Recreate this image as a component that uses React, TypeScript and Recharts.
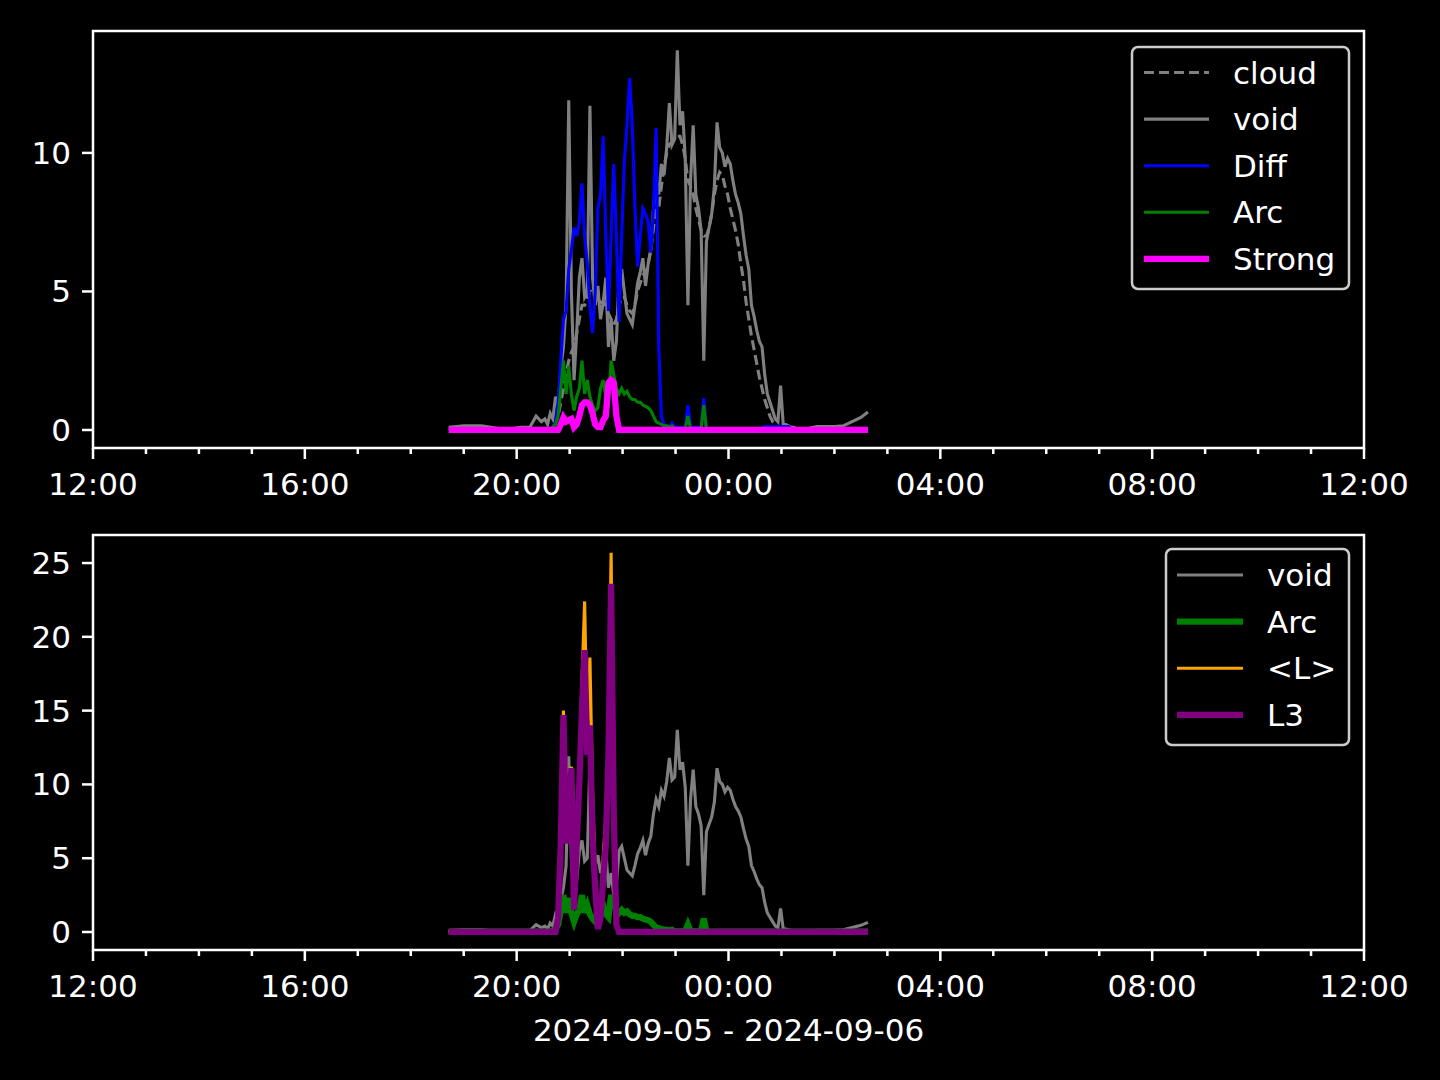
import { LineChart, Line, XAxis, YAxis, ReferenceArea } from 'recharts';

// minutes after 12:00 on 2024-09-05
const TIME = [
  403, 420, 440, 460, 475, 485, 495, 502, 508,
  512, 515, 518, 521, 524, 527, 530, 533, 536, 539,
  542, 545, 548, 551, 554, 557, 560, 563, 566, 569,
  572, 575, 578, 581, 584, 587, 590, 593, 596, 599,
  602, 605, 608, 611, 614, 617, 620, 623, 626, 629,
  632, 635, 638, 641, 644, 647, 650, 653, 656, 659,
  662, 665, 668, 671, 674, 677, 680, 683, 686, 689,
  692, 695, 698, 701, 704, 707, 710, 713, 716, 719,
  722, 725, 728, 731, 734, 737, 740, 743, 746, 749,
  752, 755, 758, 761, 764, 767, 770, 773, 776, 779,
  782, 785, 788, 791, 794, 797, 800,
  810, 820, 830, 840, 850, 860, 870, 878,
];

const CLOUD = [
  0.05, 0.05, 0.05, 0.05, 0.05, 0.05, 0.05, 0.05, 0.05,
  0.05, 0.05, 0.05, 0.1, 0.3, 0.5, 1.0, 1.5, 2.0, 2.5,
  2.8, 3.0, 3.5, 4.0, 4.5, 4.5, 4.8, 5.0, 5.2, 5.0,
  4.8, 4.6, 4.6, 4.5, 4.2, 4.0, 3.8, 4.0, 4.5, 4.8,
  4.8, 4.5, 4.3, 4.2, 4.5, 5.0, 5.3, 5.6, 5.6, 6.0,
  6.5, 7.3, 8.0, 8.0, 8.8, 9.5, 10.0, 10.3, 10.4, 10.5,
  10.6, 10.6, 10.3, 9.8, 9.0, 8.8, 8.5, 8.0, 7.6, 7.2,
  7.0, 7.0, 7.3, 7.8, 8.5, 9.0, 9.3, 9.2, 8.8, 8.5,
  8.0, 7.6, 7.2, 6.7, 6.0, 5.4, 4.6, 4.0, 3.4, 2.9,
  2.4, 1.9, 1.5, 1.1, 0.8, 0.5, 0.3, 0.2, 0.1, 0.1,
  0.05, 0.05, 0.05, 0.05, 0.05, 0.05, 0.05,
  0.05, 0.05, 0.05, 0.05, 0.05, 0.05, 0.05, 0.05,
];

const VOID = [
  0.1, 0.15, 0.15, 0.05, 0.05, 0.1, 0.1, 0.5, 0.3,
  0.4, 0.2, 0.6, 0.4, 1.2, 0.9, 2.2, 3.0, 4.5, 11.9,
  5.0, 1.8, 3.5, 5.5, 6.2, 4.8, 5.0, 11.7, 5.5, 4.5,
  5.2, 4.0, 4.6, 5.5, 3.0, 4.0, 2.5, 3.2, 5.5, 5.8,
  5.0, 4.2, 4.0, 3.8, 4.5, 5.3, 5.7, 6.2, 5.2, 6.0,
  6.5, 8.0, 9.0, 8.5, 9.6, 9.2, 10.2, 11.8, 10.3, 10.5,
  13.7, 11.0, 11.5, 9.8, 4.5, 9.0, 11.0, 8.5, 8.0, 7.2,
  2.5, 6.8, 7.3, 7.8, 8.8, 11.1, 10.2, 10.0, 9.5, 9.8,
  9.6, 9.0, 8.5, 8.2, 7.8, 7.0, 6.3, 5.8, 4.5, 4.1,
  3.6, 3.2, 3.0, 2.0, 1.3, 1.0, 0.7, 0.4, 0.3, 1.6,
  0.2, 0.2, 0.15, 0.1, 0.1, 0.05, 0.05,
  0.05, 0.12, 0.12, 0.12, 0.15, 0.3, 0.45, 0.65,
];

const DIFF = [
  0.05, 0.05, 0.05, 0.05, 0.05, 0.05, 0.05, 0.05, 0.05,
  0.05, 0.05, 0.05, 0.1, 0.3, 1.0, 2.5, 4.0, 4.3, 5.8,
  6.5, 7.3, 7.0, 7.5, 8.9, 7.0, 6.0, 4.5, 3.5, 5.0,
  8.0, 8.5, 10.6, 7.0, 4.3, 7.0, 9.6, 7.0, 3.9, 7.0,
  9.7, 11.0, 12.7, 11.0, 8.0, 5.9, 7.0, 8.0, 7.8, 7.5,
  6.4, 8.0, 10.9, 3.0, 0.5, 0.2, 0.15, 0.1, 0.25, 0.1,
  0.1, 0.1, 0.1, 0.1, 0.9, 0.1, 0.1, 0.1, 0.1, 0.1,
  1.15, 0.05, 0.05, 0.05, 0.05, 0.05, 0.05, 0.05, 0.05, 0.05,
  0.05, 0.05, 0.05, 0.05, 0.05, 0.05, 0.05, 0.05, 0.05, 0.05,
  0.05, 0.05, 0.05, 0.12, 0.12, 0.12, 0.12, 0.12, 0.12, 0.12,
  0.12, 0.12, 0.12, 0.05, 0.05, 0.05, 0.05,
  0.05, 0.05, 0.05, 0.05, 0.05, 0.05, 0.05, 0.05,
];

const ARC = [
  0.02, 0.02, 0.02, 0.02, 0.02, 0.02, 0.02, 0.02, 0.02,
  0.02, 0.02, 0.02, 0.1, 0.2, 0.5, 1.5, 2.5, 1.3, 2.3,
  1.3, 0.7, 1.2, 1.5, 2.5, 1.3, 1.8, 1.2, 0.9, 0.7,
  0.8, 1.5, 1.8, 1.2, 1.0, 2.5, 2.0, 1.5, 1.3, 1.5,
  1.3, 1.4, 1.2, 1.1, 1.1, 1.0, 1.0, 0.9, 0.85, 0.8,
  0.7, 0.5, 0.3, 0.25, 0.2, 0.15, 0.15, 0.1, 0.15, 0.05,
  0.05, 0.05, 0.05, 0.05, 0.5, 0.05, 0.05, 0.05, 0.05, 0.05,
  0.9, 0.02, 0.02, 0.02, 0.02, 0.02, 0.02, 0.02, 0.02, 0.02,
  0.02, 0.02, 0.02, 0.02, 0.02, 0.02, 0.02, 0.02, 0.02, 0.02,
  0.02, 0.02, 0.02, 0.02, 0.02, 0.02, 0.02, 0.02, 0.02, 0.02,
  0.02, 0.02, 0.02, 0.02, 0.02, 0.02, 0.02,
  0.02, 0.02, 0.02, 0.02, 0.02, 0.02, 0.02, 0.02,
];

const STRONG = [
  0, 0, 0, 0, 0, 0, 0, 0, 0,
  0, 0, 0, 0, 0, 0, 0.2, 0.45, 0.3, 0.35,
  0.4, 0.1, 0.2, 0.5, 0.9, 1.0, 1.0, 0.9, 0.6, 0.2,
  0.1, 0.1, 0.35, 0.5, 1.7, 1.8, 1.7, 0.5, 0, 0,
  0, 0, 0, 0, 0, 0, 0, 0, 0, 0,
  0, 0, 0, 0, 0, 0, 0, 0, 0, 0,
  0, 0, 0, 0, 0, 0, 0, 0, 0, 0,
  0, 0, 0, 0, 0, 0, 0, 0, 0, 0,
  0, 0, 0, 0, 0, 0, 0, 0, 0, 0,
  0, 0, 0, 0, 0, 0, 0, 0, 0, 0,
  0, 0, 0, 0, 0, 0, 0,
  0, 0, 0, 0, 0, 0, 0, 0,
];

const L_MEAN = [
  0, 0, 0, 0, 0, 0, 0, 0, 0,
  0, 0, 0, 0, 0, 1.2, 6.5, 15.0, 8.7, 8.0,
  11.2, 3.0, 7.0, 11.0, 17.0, 22.4, 13.0, 18.6, 9.4, 4.0,
  0.5, 1.5, 5.0, 7.8, 13.0, 25.7, 9.0, 0.8, 0, 0,
  0, 0, 0, 0, 0, 0, 0, 0, 0, 0,
  0, 0, 0, 0, 0, 0, 0, 0, 0, 0,
  0, 0, 0, 0, 0, 0, 0, 0, 0, 0,
  0, 0, 0, 0, 0, 0, 0, 0, 0, 0,
  0, 0, 0, 0, 0, 0, 0, 0, 0, 0,
  0, 0, 0, 0, 0, 0, 0, 0, 0, 0,
  0, 0, 0, 0, 0, 0, 0,
  0, 0, 0, 0, 0, 0, 0, 0,
];

const L3 = [
  0, 0, 0, 0, 0, 0, 0, 0, 0,
  0, 0, 0, 0, 0, 1.0, 6.0, 14.7, 6.0, 8.0,
  11.1, 1.5, 6.0, 10.1, 15.0, 19.1, 12.0, 14.0, 6.4, 3.0,
  0.2, 1.0, 3.5, 5.9, 12.0, 23.6, 8.0, 0.5, 0, 0,
  0, 0, 0, 0, 0, 0, 0, 0, 0, 0,
  0, 0, 0, 0, 0, 0, 0, 0, 0, 0,
  0, 0, 0, 0, 0, 0, 0, 0, 0, 0,
  0, 0, 0, 0, 0, 0, 0, 0, 0, 0,
  0, 0, 0, 0, 0, 0, 0, 0, 0, 0,
  0, 0, 0, 0, 0, 0, 0, 0, 0, 0,
  0, 0, 0, 0, 0, 0, 0,
  0, 0, 0, 0, 0, 0, 0, 0,
];

const HOUR_TICKS = [0, 60, 120, 180, 240, 300, 360, 420, 480, 540, 600, 660, 720, 780, 840, 900, 960, 1020, 1080, 1140, 1200, 1260, 1320, 1380, 1440];
const HOUR_LABELS = ['12:00', '16:00', '20:00', '00:00', '04:00', '08:00', '12:00'];
const TOP_Y_TICKS = [0, 5, 10];
const BOTTOM_Y_TICKS = [0, 5, 10, 15, 20, 25];
const TOP_Y_DOMAIN: [number, number] = [-0.65, 14.4];
const BOTTOM_Y_DOMAIN: [number, number] = [-1.22, 26.9];
const X_TITLE = '2024-09-05 - 2024-09-06';

const rows = TIME.map((t, i) => ({
  t,
  cloud: CLOUD[i],
  void: VOID[i],
  diff: DIFF[i],
  arc: ARC[i],
  strong: STRONG[i],
  lmean: L_MEAN[i],
  l3: L3[i],
}));

const FONT = 31;
const TICK_SIZE = 11;
const TICK_MARGIN = 11;
const THIN = 3.1;
const THICK = 6.25;

function TimeTick(props: any) {
  const { x, y, payload } = props;
  const major = payload.value % 240 === 0;
  const axisY = y - TICK_SIZE - TICK_MARGIN;
  return (
    <g>
      <line x1={x} x2={x} y1={axisY} y2={axisY + (major ? 11 : 6)} stroke="#fff" strokeWidth={2.5} />
      {major && (
        <text x={x} y={y + 3} dy="0.71em" textAnchor="middle" fill="#fff" fontSize={FONT}>
          {HOUR_LABELS[payload.value / 240]}
        </text>
      )}
    </g>
  );
}

function axes(yDomain: [number, number], yTicks: number[]) {
  return [
    <XAxis
      key="x"
      type="number"
      dataKey="t"
      domain={[0, 1440]}
      ticks={HOUR_TICKS}
      interval={0}
      height={60}
      axisLine={false}
      tickLine={false}
      tickSize={TICK_SIZE}
      tickMargin={TICK_MARGIN}
      tick={<TimeTick />}
    />,
    <YAxis
      key="y"
      type="number"
      domain={yDomain}
      ticks={yTicks}
      interval={0}
      width={93}
      axisLine={false}
      tickLine={{ stroke: '#fff', strokeWidth: 2.5 }}
      tickSize={TICK_SIZE}
      tickMargin={TICK_MARGIN}
      tick={{ fill: '#fff', fontSize: FONT }}
    />,
  ];
}

type LegendItem = { name: string; color: string; width: number; dash?: string };

const TOP_LEGEND: LegendItem[] = [
  { name: 'cloud', color: '#808080', width: THIN, dash: '10 5' },
  { name: 'void', color: '#808080', width: THIN },
  { name: 'Diff', color: '#0000ff', width: THIN },
  { name: 'Arc', color: '#008000', width: THIN },
  { name: 'Strong', color: '#ff00ff', width: THICK },
];

const BOTTOM_LEGEND: LegendItem[] = [
  { name: 'void', color: '#808080', width: THIN },
  { name: 'Arc', color: '#008000', width: THICK },
  { name: '<L>', color: '#ffa500', width: THIN },
  { name: 'L3', color: '#800080', width: THICK },
];

function LegendBox({ x, y, w, h, items, lineX, textX, firstRow }: {
  x: number; y: number; w: number; h: number; items: LegendItem[]; lineX: [number, number]; textX: number; firstRow: number;
}) {
  return (
    <g>
      <rect x={x} y={y} width={w} height={h} rx={6} fill="#000" fillOpacity={0.8} stroke="#cccccc" strokeWidth={2.5} />
      {items.map((it, i) => {
        const cy = firstRow + i * 46.6;
        return (
          <g key={it.name}>
            <line x1={lineX[0]} x2={lineX[1]} y1={cy} y2={cy} stroke={it.color} strokeWidth={it.width} strokeDasharray={it.dash} />
            <text x={textX} y={cy} dy="0.36em" fill="#fff" fontSize={FONT}>{it.name}</text>
          </g>
        );
      })}
    </g>
  );
}

export default function App() {
  return (
    <div style={{ position: 'absolute', left: 0, top: 0, width: 1440, height: 1080, background: '#000', fontFamily: '"DejaVu Sans", sans-serif', overflow: 'hidden' }}>
      <div style={{ position: 'absolute', left: 0, top: 0 }}>
        <LineChart width={1440} height={540} data={rows} margin={{ top: 31, right: 76, bottom: 32, left: 0 }}>
          {axes(TOP_Y_DOMAIN, TOP_Y_TICKS)}
          <Line type="linear" dataKey="cloud" stroke="#808080" strokeWidth={THIN} strokeDasharray="10 5" dot={false} isAnimationActive={false} />
          <Line type="linear" dataKey="void" stroke="#808080" strokeWidth={THIN} dot={false} isAnimationActive={false} />
          <Line type="linear" dataKey="diff" stroke="#0000ff" strokeWidth={THIN} dot={false} isAnimationActive={false} />
          <Line type="linear" dataKey="arc" stroke="#008000" strokeWidth={THIN} dot={false} isAnimationActive={false} />
          <Line type="linear" dataKey="strong" stroke="#ff00ff" strokeWidth={THICK} dot={false} isAnimationActive={false} />
          <ReferenceArea x1={0} x2={1440} y1={TOP_Y_DOMAIN[0]} y2={TOP_Y_DOMAIN[1]} fill="none" stroke="#fff" strokeWidth={2.5} ifOverflow="visible" />
        </LineChart>
      </div>
      <div style={{ position: 'absolute', left: 0, top: 500 }}>
        <LineChart width={1440} height={580} data={rows} margin={{ top: 35, right: 76, bottom: 70, left: 0 }}>
          {axes(BOTTOM_Y_DOMAIN, BOTTOM_Y_TICKS)}
          <Line type="linear" dataKey="void" stroke="#808080" strokeWidth={THIN} dot={false} isAnimationActive={false} />
          <Line type="linear" dataKey="arc" stroke="#008000" strokeWidth={THICK} dot={false} isAnimationActive={false} />
          <Line type="linear" dataKey="lmean" stroke="#ffa500" strokeWidth={THIN} dot={false} isAnimationActive={false} />
          <Line type="linear" dataKey="l3" stroke="#800080" strokeWidth={THICK} dot={false} isAnimationActive={false} />
          <ReferenceArea x1={0} x2={1440} y1={BOTTOM_Y_DOMAIN[0]} y2={BOTTOM_Y_DOMAIN[1]} fill="none" stroke="#fff" strokeWidth={2.5} ifOverflow="visible" />
        </LineChart>
      </div>
      <svg width={1440} height={1080} style={{ position: 'absolute', left: 0, top: 0, pointerEvents: 'none' }}>
        <LegendBox x={1132} y={47} w={217} h={242} items={TOP_LEGEND} lineX={[1144, 1209]} textX={1233} firstRow={72.5} />
        <LegendBox x={1166} y={549} w={183} h={196} items={BOTTOM_LEGEND} lineX={[1177, 1243]} textX={1267} firstRow={575} />
        <text x={728.5} y={1041} textAnchor="middle" fill="#fff" fontSize={FONT}>{X_TITLE}</text>
      </svg>
    </div>
  );
}
